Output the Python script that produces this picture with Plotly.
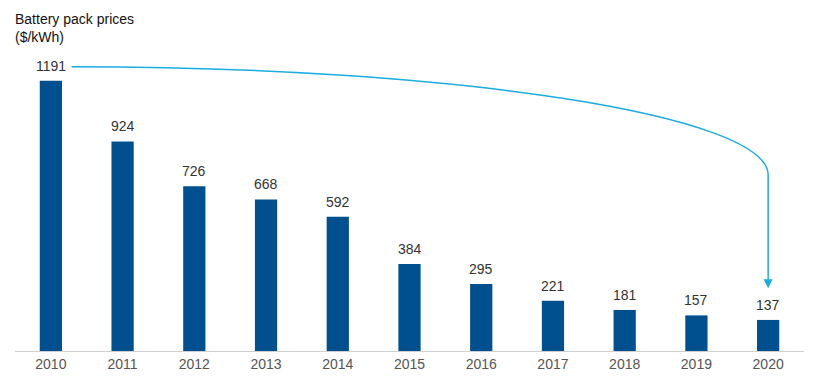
import plotly.graph_objects as go

years = ["2010", "2011", "2012", "2013", "2014", "2015", "2016", "2017", "2018", "2019", "2020"]
prices = [1191, 924, 726, 668, 592, 384, 295, 221, 181, 157, 137]
title_lines = ["Battery pack prices", "($/kWh)"]

idx = list(range(len(years)))
bar_color = "#00508F"
arrow_color = "#1AADE0"

fig = go.Figure()
fig.add_trace(go.Bar(x=idx, y=prices, marker=dict(color=bar_color, line=dict(width=0)),
                     width=0.31, hoverinfo="skip"))

for i, v in zip(idx, prices):
    fig.add_annotation(x=i, y=v, text=str(v), showarrow=False, yanchor="bottom", yshift=5,
                       font=dict(family="Liberation Sans, Arial", size=14, color="#333333"))

# quarter-ellipse arrow from first bar label down to last bar
first, last = idx[0], idx[-1]
k = 0.5523
x0 = first + 0.29
y0 = prices[0] + 62
y_corner = prices[-1] + 639
end_y = prices[-1] + 140
p1x = x0 + k * (last - x0)
p2y = y_corner + k * (y0 - y_corner)
path = (f"M {x0},{y0} C {p1x},{y0} {last},{p2y} {last},{y_corner} "
        f"L {last},{end_y + 30}")
fig.add_shape(type="path", path=path, xref="x", yref="y",
              line=dict(color=arrow_color, width=1.5))
fig.add_annotation(x=last, y=end_y, ax=last, ay=end_y + 40, axref="x", ayref="y", xref="x", yref="y",
                   text="", showarrow=True, arrowhead=2, arrowsize=1.2, arrowwidth=1.5,
                   arrowcolor=arrow_color)

fig.add_annotation(xref="paper", yref="paper", x=-0.002, y=1.175, xanchor="left", yanchor="top",
                   text="<br>".join(title_lines), showarrow=False, align="left",
                   font=dict(family="Liberation Sans, Arial", size=14, color="#111111"))

fig.update_layout(
    width=816, height=386,
    margin=dict(l=7, r=20, t=52, b=43),
    plot_bgcolor="white", paper_bgcolor="white",
    showlegend=False,
    xaxis=dict(range=[-0.5, 10.5], tickvals=idx, ticktext=years, showgrid=False, zeroline=False,
               showline=True, linecolor="#D0D0D0", linewidth=1, ticks="",
               tickfont=dict(family="Liberation Sans, Arial", size=14, color="#555555")),
    yaxis=dict(range=[0, 1283], visible=False, showgrid=False, zeroline=False),
)

fig.write_html("out.html")
